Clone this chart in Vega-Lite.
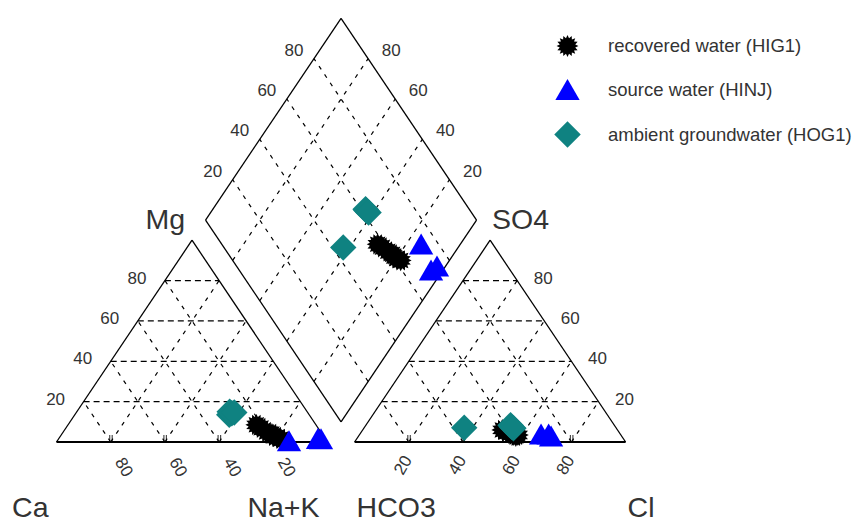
{
  "$schema": "https://vega.github.io/schema/vega-lite/v6.json",
  "width": 861,
  "height": 522,
  "padding": 0,
  "autosize": {"type": "none"},
  "background": "white",
  "config": {"view": {"stroke": null}},
  "datasets": {
    "samples": [
      {"water": "recovered water (HIG1)", "mg": 8.5, "nak": 69.5, "so4": 6.0, "cl": 51.5},
      {"water": "recovered water (HIG1)", "mg": 7.0, "nak": 72.0, "so4": 5.0, "cl": 53.5},
      {"water": "recovered water (HIG1)", "mg": 5.0, "nak": 75.0, "so4": 4.5, "cl": 55.0},
      {"water": "recovered water (HIG1)", "mg": 4.0, "nak": 77.5, "so4": 3.5, "cl": 57.0},
      {"water": "recovered water (HIG1)", "mg": 3.0, "nak": 78.5, "so4": 5.0, "cl": 55.5},
      {"water": "recovered water (HIG1)", "mg": 2.5, "nak": 80.0, "so4": 3.0, "cl": 58.0},
      {"water": "recovered water (HIG1)", "mg": 1.5, "nak": 82.0, "so4": 3.5, "cl": 58.5},
      {"water": "source water (HINJ)", "mg": 0.6, "nak": 85.5, "so4": 4.0, "cl": 69.6},
      {"water": "source water (HINJ)", "mg": 1.8, "nak": 95.6, "so4": 4.0, "cl": 66.8},
      {"water": "source water (HINJ)", "mg": 1.6, "nak": 96.8, "so4": 3.0, "cl": 71.0},
      {"water": "ambient groundwater (HOG1)", "mg": 14.2, "nak": 57.6, "so4": 7.1, "cl": 36.9},
      {"water": "ambient groundwater (HOG1)", "mg": 13.5, "nak": 57.0, "so4": 7.5, "cl": 54.2},
      {"water": "ambient groundwater (HOG1)", "mg": 15.0, "nak": 56.4, "so4": 8.3, "cl": 53.4},
      {"water": "ambient groundwater (HOG1)", "mg": 14.6, "nak": 58.3, "so4": 6.8, "cl": 55.2}
    ],
    "geo": [
      {"role": "base", "panel": "cat", "a1": 0, "b1": 0, "a2": 0, "b2": 100},
      {"role": "edge", "panel": "cat", "a1": 0, "b1": 0, "a2": 100, "b2": 0},
      {"role": "edge", "panel": "cat", "a1": 0, "b1": 100, "a2": 100, "b2": 0},
      {"role": "base", "panel": "an", "a1": 0, "b1": 0, "a2": 0, "b2": 100},
      {"role": "edge", "panel": "an", "a1": 0, "b1": 0, "a2": 100, "b2": 0},
      {"role": "edge", "panel": "an", "a1": 0, "b1": 100, "a2": 100, "b2": 0},
      {"role": "edge", "panel": "dia", "a1": 0, "b1": 0, "a2": 100, "b2": 0},
      {"role": "edge", "panel": "dia", "a1": 0, "b1": 0, "a2": 0, "b2": 100},
      {"role": "edge", "panel": "dia", "a1": 100, "b1": 0, "a2": 100, "b2": 100},
      {"role": "edge", "panel": "dia", "a1": 0, "b1": 100, "a2": 100, "b2": 100},

      {"role": "gh", "panel": "cat", "a1": 20, "b1": 0, "a2": 20, "b2": 80},
      {"role": "gh", "panel": "cat", "a1": 40, "b1": 0, "a2": 40, "b2": 60},
      {"role": "gh", "panel": "cat", "a1": 60, "b1": 0, "a2": 60, "b2": 40},
      {"role": "gh", "panel": "cat", "a1": 80, "b1": 0, "a2": 80, "b2": 20},
      {"role": "gd", "panel": "cat", "a1": 0, "b1": 20, "a2": 80, "b2": 20},
      {"role": "gd", "panel": "cat", "a1": 0, "b1": 40, "a2": 60, "b2": 40},
      {"role": "gd", "panel": "cat", "a1": 0, "b1": 60, "a2": 40, "b2": 60},
      {"role": "gd", "panel": "cat", "a1": 0, "b1": 80, "a2": 20, "b2": 80},
      {"role": "gd", "panel": "cat", "a1": 0, "b1": 80, "a2": 80, "b2": 0},
      {"role": "gd", "panel": "cat", "a1": 0, "b1": 60, "a2": 60, "b2": 0},
      {"role": "gd", "panel": "cat", "a1": 0, "b1": 40, "a2": 40, "b2": 0},
      {"role": "gd", "panel": "cat", "a1": 0, "b1": 20, "a2": 20, "b2": 0},

      {"role": "gh", "panel": "an", "a1": 20, "b1": 0, "a2": 20, "b2": 80},
      {"role": "gh", "panel": "an", "a1": 40, "b1": 0, "a2": 40, "b2": 60},
      {"role": "gh", "panel": "an", "a1": 60, "b1": 0, "a2": 60, "b2": 40},
      {"role": "gh", "panel": "an", "a1": 80, "b1": 0, "a2": 80, "b2": 20},
      {"role": "gd", "panel": "an", "a1": 0, "b1": 20, "a2": 80, "b2": 20},
      {"role": "gd", "panel": "an", "a1": 0, "b1": 40, "a2": 60, "b2": 40},
      {"role": "gd", "panel": "an", "a1": 0, "b1": 60, "a2": 40, "b2": 60},
      {"role": "gd", "panel": "an", "a1": 0, "b1": 80, "a2": 20, "b2": 80},
      {"role": "gd", "panel": "an", "a1": 0, "b1": 80, "a2": 80, "b2": 0},
      {"role": "gd", "panel": "an", "a1": 0, "b1": 60, "a2": 60, "b2": 0},
      {"role": "gd", "panel": "an", "a1": 0, "b1": 40, "a2": 40, "b2": 0},
      {"role": "gd", "panel": "an", "a1": 0, "b1": 20, "a2": 20, "b2": 0},

      {"role": "gd", "panel": "dia", "a1": 20, "b1": 0, "a2": 20, "b2": 100},
      {"role": "gd", "panel": "dia", "a1": 40, "b1": 0, "a2": 40, "b2": 100},
      {"role": "gd", "panel": "dia", "a1": 60, "b1": 0, "a2": 60, "b2": 100},
      {"role": "gd", "panel": "dia", "a1": 80, "b1": 0, "a2": 80, "b2": 100},
      {"role": "gd", "panel": "dia", "a1": 0, "b1": 20, "a2": 100, "b2": 20},
      {"role": "gd", "panel": "dia", "a1": 0, "b1": 40, "a2": 100, "b2": 40},
      {"role": "gd", "panel": "dia", "a1": 0, "b1": 60, "a2": 100, "b2": 60},
      {"role": "gd", "panel": "dia", "a1": 0, "b1": 80, "a2": 100, "b2": 80},

      {"role": "tick", "panel": "cat", "a1": 0, "b1": 20},
      {"role": "tick", "panel": "cat", "a1": 0, "b1": 40},
      {"role": "tick", "panel": "cat", "a1": 0, "b1": 60},
      {"role": "tick", "panel": "cat", "a1": 0, "b1": 80},
      {"role": "tick", "panel": "an", "a1": 0, "b1": 20},
      {"role": "tick", "panel": "an", "a1": 0, "b1": 40},
      {"role": "tick", "panel": "an", "a1": 0, "b1": 60},
      {"role": "tick", "panel": "an", "a1": 0, "b1": 80},

      {"role": "lblL", "panel": "cat", "a1": 20, "b1": 0, "label": "20"},
      {"role": "lblL", "panel": "cat", "a1": 40, "b1": 0, "label": "40"},
      {"role": "lblL", "panel": "cat", "a1": 60, "b1": 0, "label": "60"},
      {"role": "lblL", "panel": "cat", "a1": 80, "b1": 0, "label": "80"},
      {"role": "lblB1", "panel": "cat", "a1": 0, "b1": 20, "label": "80"},
      {"role": "lblB1", "panel": "cat", "a1": 0, "b1": 40, "label": "60"},
      {"role": "lblB1", "panel": "cat", "a1": 0, "b1": 60, "label": "40"},
      {"role": "lblB1", "panel": "cat", "a1": 0, "b1": 80, "label": "20"},
      {"role": "lblR", "panel": "an", "a1": 20, "b1": 80, "label": "20"},
      {"role": "lblR", "panel": "an", "a1": 40, "b1": 60, "label": "40"},
      {"role": "lblR", "panel": "an", "a1": 60, "b1": 40, "label": "60"},
      {"role": "lblR", "panel": "an", "a1": 80, "b1": 20, "label": "80"},
      {"role": "lblB2", "panel": "an", "a1": 0, "b1": 20, "label": "20"},
      {"role": "lblB2", "panel": "an", "a1": 0, "b1": 40, "label": "40"},
      {"role": "lblB2", "panel": "an", "a1": 0, "b1": 60, "label": "60"},
      {"role": "lblB2", "panel": "an", "a1": 0, "b1": 80, "label": "80"},
      {"role": "lblUL", "panel": "dia", "a1": 100, "b1": 20, "label": "20"},
      {"role": "lblUL", "panel": "dia", "a1": 100, "b1": 40, "label": "40"},
      {"role": "lblUL", "panel": "dia", "a1": 100, "b1": 60, "label": "60"},
      {"role": "lblUL", "panel": "dia", "a1": 100, "b1": 80, "label": "80"},
      {"role": "lblUR", "panel": "dia", "a1": 20, "b1": 100, "label": "20"},
      {"role": "lblUR", "panel": "dia", "a1": 40, "b1": 100, "label": "40"},
      {"role": "lblUR", "panel": "dia", "a1": 60, "b1": 100, "label": "60"},
      {"role": "lblUR", "panel": "dia", "a1": 80, "b1": 100, "label": "80"},

      {"role": "cornBL", "panel": "cat", "a1": 0, "b1": 0, "label": "Ca"},
      {"role": "cornBL", "panel": "cat", "a1": 0, "b1": 100, "label": "Na+K"},
      {"role": "cornBR", "panel": "an", "a1": 0, "b1": 0, "label": "HCO3"},
      {"role": "cornBR", "panel": "an", "a1": 0, "b1": 100, "label": "Cl"},
      {"role": "cornTL", "panel": "cat", "a1": 100, "b1": 0, "label": "Mg"},
      {"role": "cornTR", "panel": "an", "a1": 100, "b1": 0, "label": "SO4"}
    ]
  },
  "encoding": {
    "x": {"field": "x", "type": "quantitative", "scale": {"domain": [-0.20849, 2.96863], "nice": false, "zero": false}, "axis": null},
    "y": {"field": "y", "type": "quantitative", "scale": {"domain": [-0.34335, 1.897], "nice": false, "zero": false}, "axis": null}
  },
  "layer": [
    {
      "data": {"name": "geo"},
      "transform": [
        {"filter": "datum.role == 'gh'"},
        {"calculate": "datum.panel == 'cat' ? datum.b1/100 + datum.a1/200 : 1.1 + datum.b1/100 + datum.a1/200", "as": "x"},
        {"calculate": "0.866*datum.a1/100", "as": "y"},
        {"calculate": "datum.panel == 'cat' ? datum.b2/100 + datum.a2/200 : 1.1 + datum.b2/100 + datum.a2/200", "as": "x2"},
        {"calculate": "0.866*datum.a2/100", "as": "y2"}
      ],
      "mark": {"type": "rule", "color": "#000000", "strokeWidth": 1.2, "strokeDash": [6, 4]},
      "encoding": {"x2": {"field": "x2"}, "y2": {"field": "y2"}}
    },
    {
      "data": {"name": "geo"},
      "transform": [
        {"filter": "datum.role == 'gd'"},
        {"calculate": "datum.panel == 'cat' ? datum.b1/100 + datum.a1/200 : datum.panel == 'an' ? 1.1 + datum.b1/100 + datum.a1/200 : 1.05 + (datum.b1 - datum.a1)/200", "as": "x"},
        {"calculate": "datum.panel == 'dia' ? 0.866*(0.1 + (datum.a1 + datum.b1)/100) : 0.866*datum.a1/100", "as": "y"},
        {"calculate": "datum.panel == 'cat' ? datum.b2/100 + datum.a2/200 : datum.panel == 'an' ? 1.1 + datum.b2/100 + datum.a2/200 : 1.05 + (datum.b2 - datum.a2)/200", "as": "x2"},
        {"calculate": "datum.panel == 'dia' ? 0.866*(0.1 + (datum.a2 + datum.b2)/100) : 0.866*datum.a2/100", "as": "y2"}
      ],
      "mark": {"type": "rule", "color": "#000000", "strokeWidth": 1.2, "strokeDash": [4, 6]},
      "encoding": {"x2": {"field": "x2"}, "y2": {"field": "y2"}}
    },
    {
      "data": {"name": "geo"},
      "transform": [
        {"filter": "datum.role == 'edge'"},
        {"calculate": "datum.panel == 'cat' ? datum.b1/100 + datum.a1/200 : datum.panel == 'an' ? 1.1 + datum.b1/100 + datum.a1/200 : 1.05 + (datum.b1 - datum.a1)/200", "as": "x"},
        {"calculate": "datum.panel == 'dia' ? 0.866*(0.1 + (datum.a1 + datum.b1)/100) : 0.866*datum.a1/100", "as": "y"},
        {"calculate": "datum.panel == 'cat' ? datum.b2/100 + datum.a2/200 : datum.panel == 'an' ? 1.1 + datum.b2/100 + datum.a2/200 : 1.05 + (datum.b2 - datum.a2)/200", "as": "x2"},
        {"calculate": "datum.panel == 'dia' ? 0.866*(0.1 + (datum.a2 + datum.b2)/100) : 0.866*datum.a2/100", "as": "y2"}
      ],
      "mark": {"type": "rule", "color": "#000000", "strokeWidth": 1.3},
      "encoding": {"x2": {"field": "x2"}, "y2": {"field": "y2"}}
    },
    {
      "data": {"name": "geo"},
      "transform": [
        {"filter": "datum.role == 'base'"},
        {"calculate": "datum.panel == 'cat' ? datum.b1/100 + datum.a1/200 : 1.1 + datum.b1/100 + datum.a1/200", "as": "x"},
        {"calculate": "0.866*datum.a1/100", "as": "y"},
        {"calculate": "datum.panel == 'cat' ? datum.b2/100 + datum.a2/200 : 1.1 + datum.b2/100 + datum.a2/200", "as": "x2"},
        {"calculate": "0.866*datum.a2/100", "as": "y2"}
      ],
      "mark": {"type": "rule", "color": "#000000", "strokeWidth": 2},
      "encoding": {"x2": {"field": "x2"}, "y2": {"field": "y2"}}
    },
    {
      "data": {"name": "geo"},
      "transform": [
        {"filter": "datum.role == 'tick'"},
        {"calculate": "datum.panel == 'cat' ? datum.b1/100 + datum.a1/200 : 1.1 + datum.b1/100 + datum.a1/200", "as": "x"},
        {"calculate": "0.866*datum.a1/100", "as": "y"}
      ],
      "mark": {"type": "tick", "orient": "vertical", "color": "#000000", "size": 8, "thickness": 1.2, "yOffset": -3, "xOffset": -1}
    },
    {
      "data": {"name": "geo"},
      "transform": [
        {"filter": "datum.role == 'tick'"},
        {"calculate": "datum.panel == 'cat' ? datum.b1/100 + datum.a1/200 : 1.1 + datum.b1/100 + datum.a1/200", "as": "x"},
        {"calculate": "0.866*datum.a1/100", "as": "y"}
      ],
      "mark": {"type": "tick", "orient": "vertical", "color": "#000000", "size": 8, "thickness": 1.2, "yOffset": -3, "xOffset": 1.5}
    },
    {
      "data": {"name": "geo"},
      "transform": [
        {"filter": "datum.role == 'lblL'"},
        {"calculate": "datum.b1/100 + datum.a1/200", "as": "x"},
        {"calculate": "0.866*datum.a1/100", "as": "y"}
      ],
      "mark": {"type": "text", "font": "Liberation Sans", "fontSize": 17, "color": "#333333", "align": "center", "baseline": "middle", "dx": -28, "dy": -2},
      "encoding": {"text": {"field": "label"}}
    },
    {
      "data": {"name": "geo"},
      "transform": [
        {"filter": "datum.role == 'lblR'"},
        {"calculate": "1.1 + datum.b1/100 + datum.a1/200", "as": "x"},
        {"calculate": "0.866*datum.a1/100", "as": "y"}
      ],
      "mark": {"type": "text", "font": "Liberation Sans", "fontSize": 17, "color": "#333333", "align": "center", "baseline": "middle", "dx": 26, "dy": -2},
      "encoding": {"text": {"field": "label"}}
    },
    {
      "data": {"name": "geo"},
      "transform": [
        {"filter": "datum.role == 'lblB1'"},
        {"calculate": "datum.b1/100 + datum.a1/200", "as": "x"},
        {"calculate": "0.866*datum.a1/100", "as": "y"}
      ],
      "mark": {"type": "text", "font": "Liberation Sans", "fontSize": 17, "color": "#333333", "align": "center", "baseline": "middle", "angle": 60, "dx": 28.5, "dy": 1.5},
      "encoding": {"text": {"field": "label"}}
    },
    {
      "data": {"name": "geo"},
      "transform": [
        {"filter": "datum.role == 'lblB2'"},
        {"calculate": "1.1 + datum.b1/100 + datum.a1/200", "as": "x"},
        {"calculate": "0.866*datum.a1/100", "as": "y"}
      ],
      "mark": {"type": "text", "font": "Liberation Sans", "fontSize": 17, "color": "#333333", "align": "center", "baseline": "middle", "angle": 300, "dx": -23, "dy": 7},
      "encoding": {"text": {"field": "label"}}
    },
    {
      "data": {"name": "geo"},
      "transform": [
        {"filter": "datum.role == 'lblUL'"},
        {"calculate": "1.05 + (datum.b1 - datum.a1)/200", "as": "x"},
        {"calculate": "0.866*(0.1 + (datum.a1 + datum.b1)/100)", "as": "y"}
      ],
      "mark": {"type": "text", "font": "Liberation Sans", "fontSize": 17, "color": "#333333", "align": "center", "baseline": "middle", "dx": -20, "dy": -8},
      "encoding": {"text": {"field": "label"}}
    },
    {
      "data": {"name": "geo"},
      "transform": [
        {"filter": "datum.role == 'lblUR'"},
        {"calculate": "1.05 + (datum.b1 - datum.a1)/200", "as": "x"},
        {"calculate": "0.866*(0.1 + (datum.a1 + datum.b1)/100)", "as": "y"}
      ],
      "mark": {"type": "text", "font": "Liberation Sans", "fontSize": 17, "color": "#333333", "align": "center", "baseline": "middle", "dx": 23, "dy": -8},
      "encoding": {"text": {"field": "label"}}
    },
    {
      "data": {"name": "geo"},
      "transform": [
        {"filter": "datum.role == 'cornBL'"},
        {"calculate": "datum.b1/100 + datum.a1/200", "as": "x"},
        {"calculate": "0.866*datum.a1/100", "as": "y"}
      ],
      "mark": {"type": "text", "font": "Liberation Sans", "fontSize": 28.5, "color": "#333333", "align": "right", "baseline": "alphabetic", "dx": -8, "dy": 75},
      "encoding": {"text": {"field": "label"}}
    },
    {
      "data": {"name": "geo"},
      "transform": [
        {"filter": "datum.role == 'cornTL'"},
        {"calculate": "datum.b1/100 + datum.a1/200", "as": "x"},
        {"calculate": "0.866*datum.a1/100", "as": "y"}
      ],
      "mark": {"type": "text", "font": "Liberation Sans", "fontSize": 28.5, "color": "#333333", "align": "right", "baseline": "alphabetic", "dx": -7, "dy": -11},
      "encoding": {"text": {"field": "label"}}
    },
    {
      "data": {"name": "geo"},
      "transform": [
        {"filter": "datum.role == 'cornBR'"},
        {"calculate": "1.1 + datum.b1/100 + datum.a1/200", "as": "x"},
        {"calculate": "0.866*datum.a1/100", "as": "y"}
      ],
      "mark": {"type": "text", "font": "Liberation Sans", "fontSize": 28.5, "color": "#333333", "align": "left", "baseline": "alphabetic", "dx": 2, "dy": 75},
      "encoding": {"text": {"field": "label"}}
    },
    {
      "data": {"name": "geo"},
      "transform": [
        {"filter": "datum.role == 'cornTR'"},
        {"calculate": "1.1 + datum.b1/100 + datum.a1/200", "as": "x"},
        {"calculate": "0.866*datum.a1/100", "as": "y"}
      ],
      "mark": {"type": "text", "font": "Liberation Sans", "fontSize": 28.5, "color": "#333333", "align": "left", "baseline": "alphabetic", "dx": 2, "dy": -11},
      "encoding": {"text": {"field": "label"}}
    },
    {
      "data": {"name": "samples"},
      "transform": [
        {"calculate": "datum.nak/100 + datum.mg/200", "as": "x"},
        {"calculate": "0.866*datum.mg/100", "as": "y"}
      ],
      "mark": {"type": "point", "filled": true, "opacity": 1, "strokeWidth": 0},
      "encoding": {
        "color": {"field": "water", "type": "nominal", "scale": {"domain": ["recovered water (HIG1)", "source water (HINJ)", "ambient groundwater (HOG1)"], "range": ["#000000", "#0000ff", "#0f8281"]},
          "legend": {"title": null, "orient": "none", "legendX": 554, "legendY": 35, "labelFont": "Liberation Sans", "labelFontSize": 18.5, "labelColor": "#333333", "labelLimit": 0, "labelOffset": 27, "rowPadding": 20, "symbolStrokeWidth": 0, "symbolOpacity": 1}},
        "shape": {"field": "water", "type": "nominal", "scale": {"domain": ["recovered water (HIG1)", "source water (HINJ)", "ambient groundwater (HOG1)"], "range": ["M1,0L0.706,0.14L0.924,0.383L0.599,0.4L0.707,0.707L0.4,0.599L0.383,0.924L0.14,0.706L0,1L-0.14,0.706L-0.383,0.924L-0.4,0.599L-0.707,0.707L-0.599,0.4L-0.924,0.383L-0.706,0.14L-1,0L-0.706,-0.14L-0.924,-0.383L-0.599,-0.4L-0.707,-0.707L-0.4,-0.599L-0.383,-0.924L-0.14,-0.706L0,-1L0.14,-0.706L0.383,-0.924L0.4,-0.599L0.707,-0.707L0.599,-0.4L0.924,-0.383L0.706,-0.14Z", "triangle-up", "diamond"]},
          "legend": {"title": null, "orient": "none", "legendX": 554, "legendY": 35, "labelFont": "Liberation Sans", "labelFontSize": 18.5, "labelColor": "#333333", "labelLimit": 0, "labelOffset": 27, "rowPadding": 20, "symbolStrokeWidth": 0, "symbolOpacity": 1}},
        "size": {"field": "water", "type": "nominal", "scale": {"domain": ["recovered water (HIG1)", "source water (HINJ)", "ambient groundwater (HOG1)"], "range": [480, 700, 480]},
          "legend": {"title": null, "orient": "none", "legendX": 554, "legendY": 35, "labelFont": "Liberation Sans", "labelFontSize": 18.5, "labelColor": "#333333", "labelLimit": 0, "labelOffset": 27, "rowPadding": 20, "symbolStrokeWidth": 0, "symbolOpacity": 1}}
      }
    },
    {
      "data": {"name": "samples"},
      "transform": [
        {"calculate": "1.1 + datum.cl/100 + datum.so4/200", "as": "x"},
        {"calculate": "0.866*datum.so4/100", "as": "y"}
      ],
      "mark": {"type": "point", "filled": true, "opacity": 1, "strokeWidth": 0},
      "encoding": {
        "color": {"field": "water", "type": "nominal"},
        "shape": {"field": "water", "type": "nominal"},
        "size": {"field": "water", "type": "nominal"}
      }
    },
    {
      "data": {"name": "samples"},
      "transform": [
        {"calculate": "100 - datum.nak", "as": "camg"},
        {"calculate": "datum.cl + datum.so4", "as": "clso4"},
        {"calculate": "1.05 + (datum.clso4 - datum.camg)/200", "as": "x"},
        {"calculate": "0.866*(0.1 + (datum.camg + datum.clso4)/100)", "as": "y"}
      ],
      "mark": {"type": "point", "filled": true, "opacity": 1, "strokeWidth": 0},
      "encoding": {
        "color": {"field": "water", "type": "nominal"},
        "shape": {"field": "water", "type": "nominal"},
        "size": {"field": "water", "type": "nominal"}
      }
    }
  ]
}
